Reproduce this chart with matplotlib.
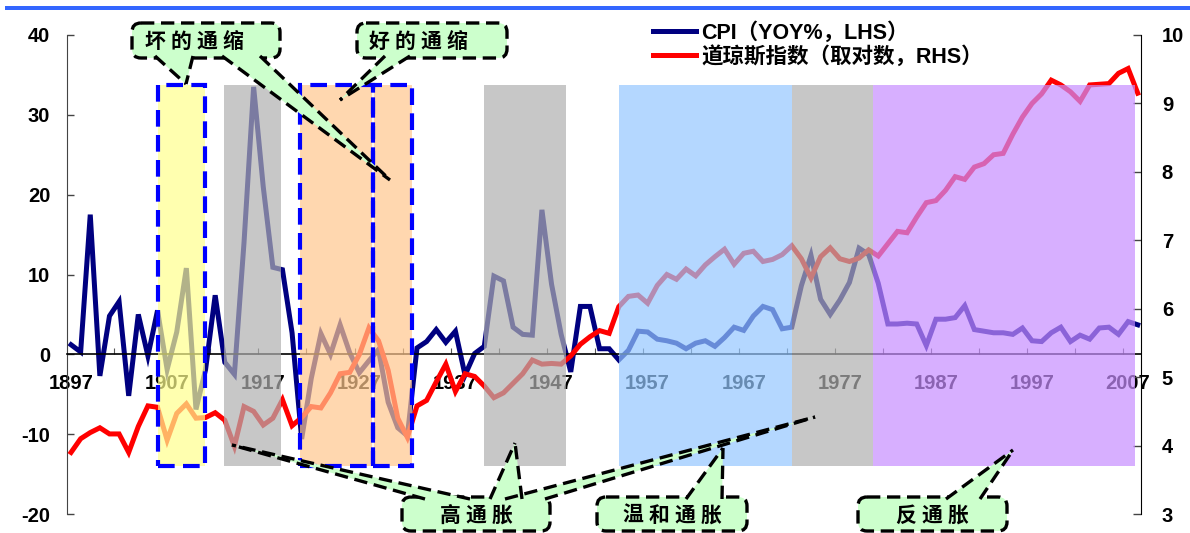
import matplotlib
matplotlib.use("Agg")
import matplotlib.pyplot as plt
from matplotlib.patches import Rectangle, FancyBboxPatch, Polygon
from matplotlib.lines import Line2D
from matplotlib.transforms import Affine2D
from matplotlib.ticker import FixedLocator

# ---------------- data ----------------
years = list(range(1897, 2009))

cpi_yoy = [
    1.2, 0.3, 17.5, -2.7, 4.8, 6.6, -5.2, 5.0, -0.2, 5.5,        # 1897-1906
    -1.9, 2.8, 10.8, -6.9, -1.9, 7.4, -1.0, -2.5, 14.0, 33.5,     # 1907-1916
    21.0, 10.9, 10.6, 2.7, -10.6, -3.0, 2.6, 0.0, 3.7, 0.2,       # 1917-1926
    -2.3, -0.8, 0.6, -6.0, -9.2, -10.2, 0.8, 1.6, 3.1, 1.5,       # 1927-1936
    2.9, -2.6, 0.1, 1.0, 9.8, 9.2, 3.4, 2.5, 2.4, 18.1,           # 1937-1946
    8.8, 2.5, -2.2, 6.0, 6.0, 0.7, 0.7, -0.7, 0.5, 2.9,           # 1947-1956
    2.8, 1.9, 1.7, 1.4, 0.7, 1.4, 1.7, 1.0, 2.1, 3.4,             # 1957-1966
    3.0, 4.8, 6.0, 5.6, 3.2, 3.4, 8.6, 12.4, 6.9, 5.0,            # 1967-1976
    6.8, 9.0, 13.3, 12.5, 8.9, 3.8, 3.8, 3.9, 3.8, 1.1,           # 1977-1986
    4.4, 4.4, 4.6, 6.1, 3.1, 2.9, 2.7, 2.7, 2.5, 3.3,             # 1987-1996
    1.7, 1.6, 2.7, 3.4, 1.6, 2.4, 1.9, 3.3, 3.4, 2.5,             # 1997-2006
    4.1, 3.7,                                                     # 2007-2008
]

dow_log = [
    3.90, 4.10, 4.19, 4.26, 4.17, 4.17, 3.90, 4.28, 4.58, 4.56,   # 1897-1906
    4.08, 4.47, 4.61, 4.40, 4.41, 4.48, 4.37, 3.99, 4.57, 4.50,   # 1907-1916
    4.30, 4.40, 4.67, 4.29, 4.41, 4.57, 4.55, 4.77, 5.05, 5.07,   # 1917-1926
    5.33, 5.72, 5.53, 5.10, 4.40, 4.12, 4.58, 4.66, 4.93, 5.19,   # 1927-1936
    4.79, 5.05, 5.01, 4.87, 4.70, 4.77, 4.91, 5.05, 5.25, 5.19,   # 1937-1946
    5.20, 5.19, 5.31, 5.48, 5.59, 5.68, 5.64, 6.03, 6.18, 6.20,   # 1947-1956
    6.08, 6.34, 6.50, 6.43, 6.58, 6.48, 6.64, 6.76, 6.87, 6.65,   # 1957-1966
    6.81, 6.84, 6.69, 6.72, 6.79, 6.92, 6.73, 6.45, 6.76, 6.89,   # 1967-1976
    6.73, 6.69, 6.74, 6.86, 6.77, 6.95, 7.13, 7.11, 7.34, 7.55,   # 1977-1986
    7.58, 7.73, 7.93, 7.89, 8.07, 8.12, 8.25, 8.27, 8.55, 8.80,   # 1987-1996
    9.00, 9.14, 9.34, 9.27, 9.17, 9.03, 9.27, 9.28, 9.29, 9.44,   # 1997-2006
    9.51, 9.15,                                                   # 2007-2008
]

xtick_years = [1897, 1907, 1917, 1927, 1937, 1947, 1957, 1967, 1977, 1987, 1997, 2007]
left_ticks = [-20, -10, 0, 10, 20, 30, 40]
right_ticks = [3, 4, 5, 6, 7, 8, 9, 10]

legend_labels = ["CPI（YOY%，LHS）", "道琼斯指数（取对数，RHS）"]

# shaded regimes
region_start = [1906.05, 1912.9, 1920.83, 1939.98, 1954.0, 1972.0, 1980.45]
region_end = [1910.94, 1918.85, 1932.48, 1948.5, 1972.0, 1980.45, 2007.7]
region_color = ["#ffff8e", "#b0b0b0", "#ffc78e", "#b0b0b0", "#94c7ff", "#b0b0b0", "#c78eff"]
region_low, region_high = -14.0, 33.75

# dashed deflation boxes
box_start = [1906.05, 1920.83, 1928.43]
box_end = [1910.94, 1928.43, 1932.48]

callout_labels = ["坏的通缩", "好的通缩", "高通胀", "温和通胀", "反通胀"]

# ---------------- figure ----------------
W, H = 1190, 533
fig = plt.figure(figsize=(W / 100, H / 100), dpi=100)
fig.patch.set_facecolor("white")
pix = Affine2D().scale(1.0 / W, -1.0 / H).translate(0, 1) + fig.transFigure

ax1 = fig.add_axes([67 / W, 1 - 514 / H, (1141 - 67) / W, (514 - 35) / H])
ax2 = ax1.twinx()
for a in (ax1, ax2):
    a.patch.set_visible(False)

tick_font = dict(family="Liberation Sans", weight="bold", size=14.5)

# CPI on the left axis
(l_cpi,) = ax1.plot(years, cpi_yoy, color="#000080", lw=3.6, solid_joinstyle="miter", zorder=2)
ax1.set_xlim(1896.58, 2008.34)
ax1.set_ylim(-20, 40)
ax1.set_yticks(left_ticks)
ax1.set_yticklabels([str(v) for v in left_ticks], **tick_font)
ax1.tick_params(axis="y", direction="in", length=5, width=1, color="#444444", pad=12)

ax1.spines["top"].set_visible(False)
ax1.spines["right"].set_visible(False)
ax1.spines["left"].set_color("#444444")
ax1.spines["bottom"].set_position(("data", 0))
ax1.spines["bottom"].set_color("black")
ax1.spines["bottom"].set_linewidth(1.2)

ax1.set_xticks(xtick_years)
ax1.set_xticklabels([str(y) for y in xtick_years], **tick_font)
ax1.tick_params(axis="x", which="major", length=0, pad=14)
ax1.xaxis.set_minor_locator(FixedLocator([1896.5 + 5 * k for k in range(1, 23)]))
ax1.tick_params(axis="x", which="minor", direction="in", length=4, width=0.8, color="#555555")

# Dow Jones (log) on the right axis
(l_dow,) = ax2.plot(years, dow_log, color="#ff0000", lw=3.6, solid_joinstyle="miter", zorder=2)
ax2.set_ylim(3, 10)
ax2.set_yticks(right_ticks)
ax2.set_yticklabels([str(v) for v in right_ticks], **tick_font)
ax2.tick_params(axis="y", direction="in", length=6, width=1, color="#444444", pad=15)
for s in ("top", "left", "bottom"):
    ax2.spines[s].set_visible(False)
ax2.spines["right"].set_color("black")

# translucent regime shading, over both series
for x0, x1, c in zip(region_start, region_end, region_color):
    ax2.add_patch(Rectangle((x0, region_low), x1 - x0, region_high - region_low,
                            transform=ax1.transData, fc=c, ec="none", alpha=0.7, zorder=3))
ax2.plot([1928.43, 1928.43], [region_low, region_high], color="white", lw=1.2,
         transform=ax1.transData, zorder=3.5)
for x0, x1 in zip(box_start, box_end):
    ax2.add_patch(Rectangle((x0, region_low), x1 - x0, region_high - region_low,
                            transform=ax1.transData, fc="none", ec="#0000ff",
                            lw=3.0, ls=(0, (4, 2)), zorder=4))

# legend
leg = ax2.legend([l_cpi, l_dow], legend_labels, loc="upper left",
                 bbox_to_anchor=(653 / W, 1 - 22 / H), bbox_transform=fig.transFigure,
                 frameon=False, handlelength=2.0, handletextpad=0.25, labelspacing=0.1,
                 borderaxespad=0, borderpad=0,
                 prop=dict(family=["Liberation Sans", "Noto Sans CJK SC"], weight="bold", size=15.5))
leg.set_zorder(20)

# top rule
fig.add_artist(Rectangle((5, 6), W - 5, 4, transform=pix, fc="#3366ff", ec="none", zorder=30))

# callout boxes
GREEN = "#ccffcc"
DASH = (0, (4, 2))


def callout(label, box, pointers, tx, ty):
    x0, y0, x1, y1 = box
    fig.add_artist(FancyBboxPatch((x0, y0), x1 - x0, y1 - y0,
                                  boxstyle="round,pad=0,rounding_size=9", transform=pix,
                                  fc=GREEN, ec="black", lw=2.4, ls=DASH, zorder=40))
    for b1, b2, tip in pointers:
        fig.add_artist(Polygon([b1, tip, b2], closed=True, transform=pix,
                               fc=GREEN, ec="none", zorder=41))
        for b in (b1, b2):
            fig.add_artist(Line2D([b[0], tip[0]], [b[1], tip[1]], transform=pix,
                                  color="black", lw=2.4, ls=DASH, zorder=42))
    n = len(label)
    adv = 26
    for i, ch in enumerate(label):
        fig.text(tx + (i - (n - 1) / 2) * adv, ty, ch, transform=pix, ha="center", va="center",
                 fontsize=15, fontweight="bold", family="Noto Sans CJK SC", zorder=43)


callout(callout_labels[0], (132, 23, 280, 58),
        [((155, 56), (193, 56), (186, 84)), ((222, 56), (260, 56), (390, 180))], 194, 41)
callout(callout_labels[1], (357, 23, 507, 58),
        [((385, 56), (410, 56), (340, 100))], 418, 41)
callout(callout_labels[2], (402, 497, 550, 531),
        [((425, 499), (470, 499), (232, 445)), ((490, 499), (522, 499), (515, 443)),
         ((505, 499), (545, 499), (815, 417))], 476, 515)
callout(callout_labels[3], (597, 497, 747, 531),
        [((686, 499), (722, 499), (723, 448))], 672, 515)
callout(callout_labels[4], (858, 497, 1007, 531),
        [((946, 499), (980, 499), (1013, 450))], 932, 515)

fig.savefig("out.png", dpi=100)
